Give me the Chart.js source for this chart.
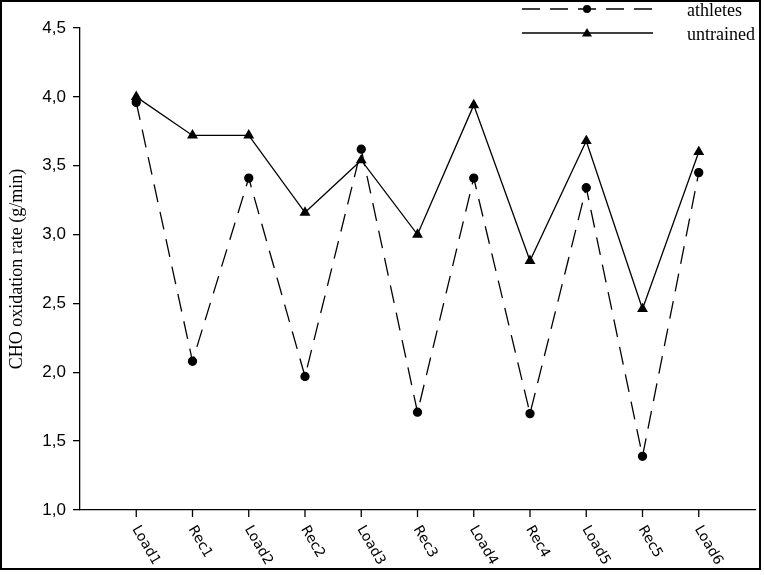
<!DOCTYPE html>
<html>
<head>
<meta charset="utf-8">
<script src="https://cdn.jsdelivr.net/npm/chart.js@4.4.1/dist/chart.umd.min.js"></script>
<style>
  html, body { margin: 0; padding: 0; background: #fff; }
  #wrap { width: 764px; height: 575px; position: relative; }
</style>
</head>
<body>
<div id="wrap"><canvas id="myChart"></canvas></div>
<script>
// CHO oxidation rate per exercise phase
var phases = ["Load1", "Rec1", "Load2", "Rec2", "Load3", "Rec3", "Load4", "Rec4", "Load5", "Rec5", "Load6"];
var athletes = [3.96, 2.08, 3.41, 1.97, 3.62, 1.71, 3.41, 1.70, 3.34, 1.39, 3.45];
var untrained = [4.00, 3.72, 3.72, 3.16, 3.54, 3.00, 3.94, 2.81, 3.68, 2.46, 3.60];
var yMin = 1.0, yMax = 4.5, yStep = 0.5;

function toPoints(vals) {
  var pts = [];
  for (var i = 0; i < vals.length; i++) {
    pts.push({ x: i + 1, y: vals[i] });
  }
  return pts;
}

function drawMarker(ctx, style, x, y) {
  ctx.beginPath();
  if (style == "triangle") {
    ctx.moveTo(x, y - 5);
    ctx.lineTo(x + 5, y + 3.5);
    ctx.lineTo(x - 5, y + 3.5);
    ctx.closePath();
  } else {
    ctx.arc(x, y, 4, 0, Math.PI * 2);
  }
  ctx.fill();
}

// x tick marks + slanted labels, legend and the outer frame
var extras = {
  id: "extras",
  afterDraw: function(chart) {
    var ctx = chart.ctx;
    var xs = chart.scales.x;
    var bottom = chart.chartArea.bottom;
    ctx.save();
    ctx.strokeStyle = "#000";
    ctx.fillStyle = "#000";
    ctx.lineWidth = 1.3;
    ctx.font = "14px 'DejaVu Sans'";
    ctx.textAlign = "left";
    ctx.textBaseline = "middle";
    for (var i = 0; i < phases.length; i++) {
      var px = xs.getPixelForValue(i + 1);
      ctx.beginPath();
      ctx.moveTo(px, bottom);
      ctx.lineTo(px, bottom + 7);
      ctx.stroke();
      ctx.save();
      ctx.translate(px - 1, bottom + 17);
      ctx.rotate(60 * Math.PI / 180);
      ctx.fillText(phases[i], 0, 0);
      ctx.restore();
    }

    // legend
    var sets = chart.data.datasets;
    ctx.font = "18px 'Liberation Serif'";
    ctx.textBaseline = "alphabetic";
    for (var j = 0; j < sets.length; j++) {
      var ly = 9 + j * 24;
      ctx.setLineDash(sets[j].borderDash || []);
      ctx.beginPath();
      ctx.moveTo(522, ly);
      ctx.lineTo(653, ly);
      ctx.stroke();
      ctx.setLineDash([]);
      drawMarker(ctx, sets[j].pointStyle, 587, ly);
      ctx.fillText(sets[j].label, 687, ly + 7);
    }

    // frame round the whole figure
    ctx.lineWidth = 2;
    ctx.strokeRect(1, 1, 759, 568);
    ctx.restore();
  }
};

new Chart("myChart", {
  type: "line",
  data: {
    datasets: [{
      label: "athletes",
      data: toPoints(athletes),
      borderColor: "#000",
      backgroundColor: "#000",
      borderWidth: 1.3,
      borderDash: [18, 10],
      pointStyle: "circle",
      pointRadius: 4,
      pointBackgroundColor: "#000",
      pointBorderColor: "#000",
      tension: 0,
      clip: false
    }, {
      label: "untrained",
      data: toPoints(untrained),
      borderColor: "#000",
      backgroundColor: "#000",
      borderWidth: 1.3,
      pointStyle: "triangle",
      pointRadius: 5,
      pointBackgroundColor: "#000",
      pointBorderColor: "#000",
      tension: 0,
      clip: false
    }]
  },
  options: {
    responsive: true,
    maintainAspectRatio: false,
    animation: false,
    devicePixelRatio: 1,
    layout: { padding: { top: 28, right: 9, left: 0, bottom: 0 } },
    plugins: {
      legend: { display: false },
      tooltip: { enabled: false }
    },
    scales: {
      x: {
        type: "linear",
        min: 0,
        max: phases.length + 1,
        grid: { display: false },
        ticks: { display: false },
        border: { display: true, color: "#000", width: 1.3 },
        afterFit: function(s) { s.height = 65; }
      },
      y: {
        min: yMin,
        max: yMax,
        grid: { drawOnChartArea: false, drawTicks: true, tickLength: 7, color: "#000", lineWidth: 1.3 },
        border: { display: true, color: "#000", width: 1.3 },
        ticks: {
          stepSize: yStep,
          color: "#000",
          padding: 7,
          font: { family: "'Liberation Sans'", size: 17 },
          callback: function(v) { return v.toFixed(1).replace(".", ","); }
        },
        title: {
          display: true,
          text: "CHO oxidation rate (g/min)",
          color: "#000",
          font: { family: "'Liberation Serif'", size: 18 },
          padding: { top: 6, bottom: 0 }
        },
        afterFit: function(s) { s.width = 80; }
      }
    }
  },
  plugins: [extras]
});
</script>
</body>
</html>
